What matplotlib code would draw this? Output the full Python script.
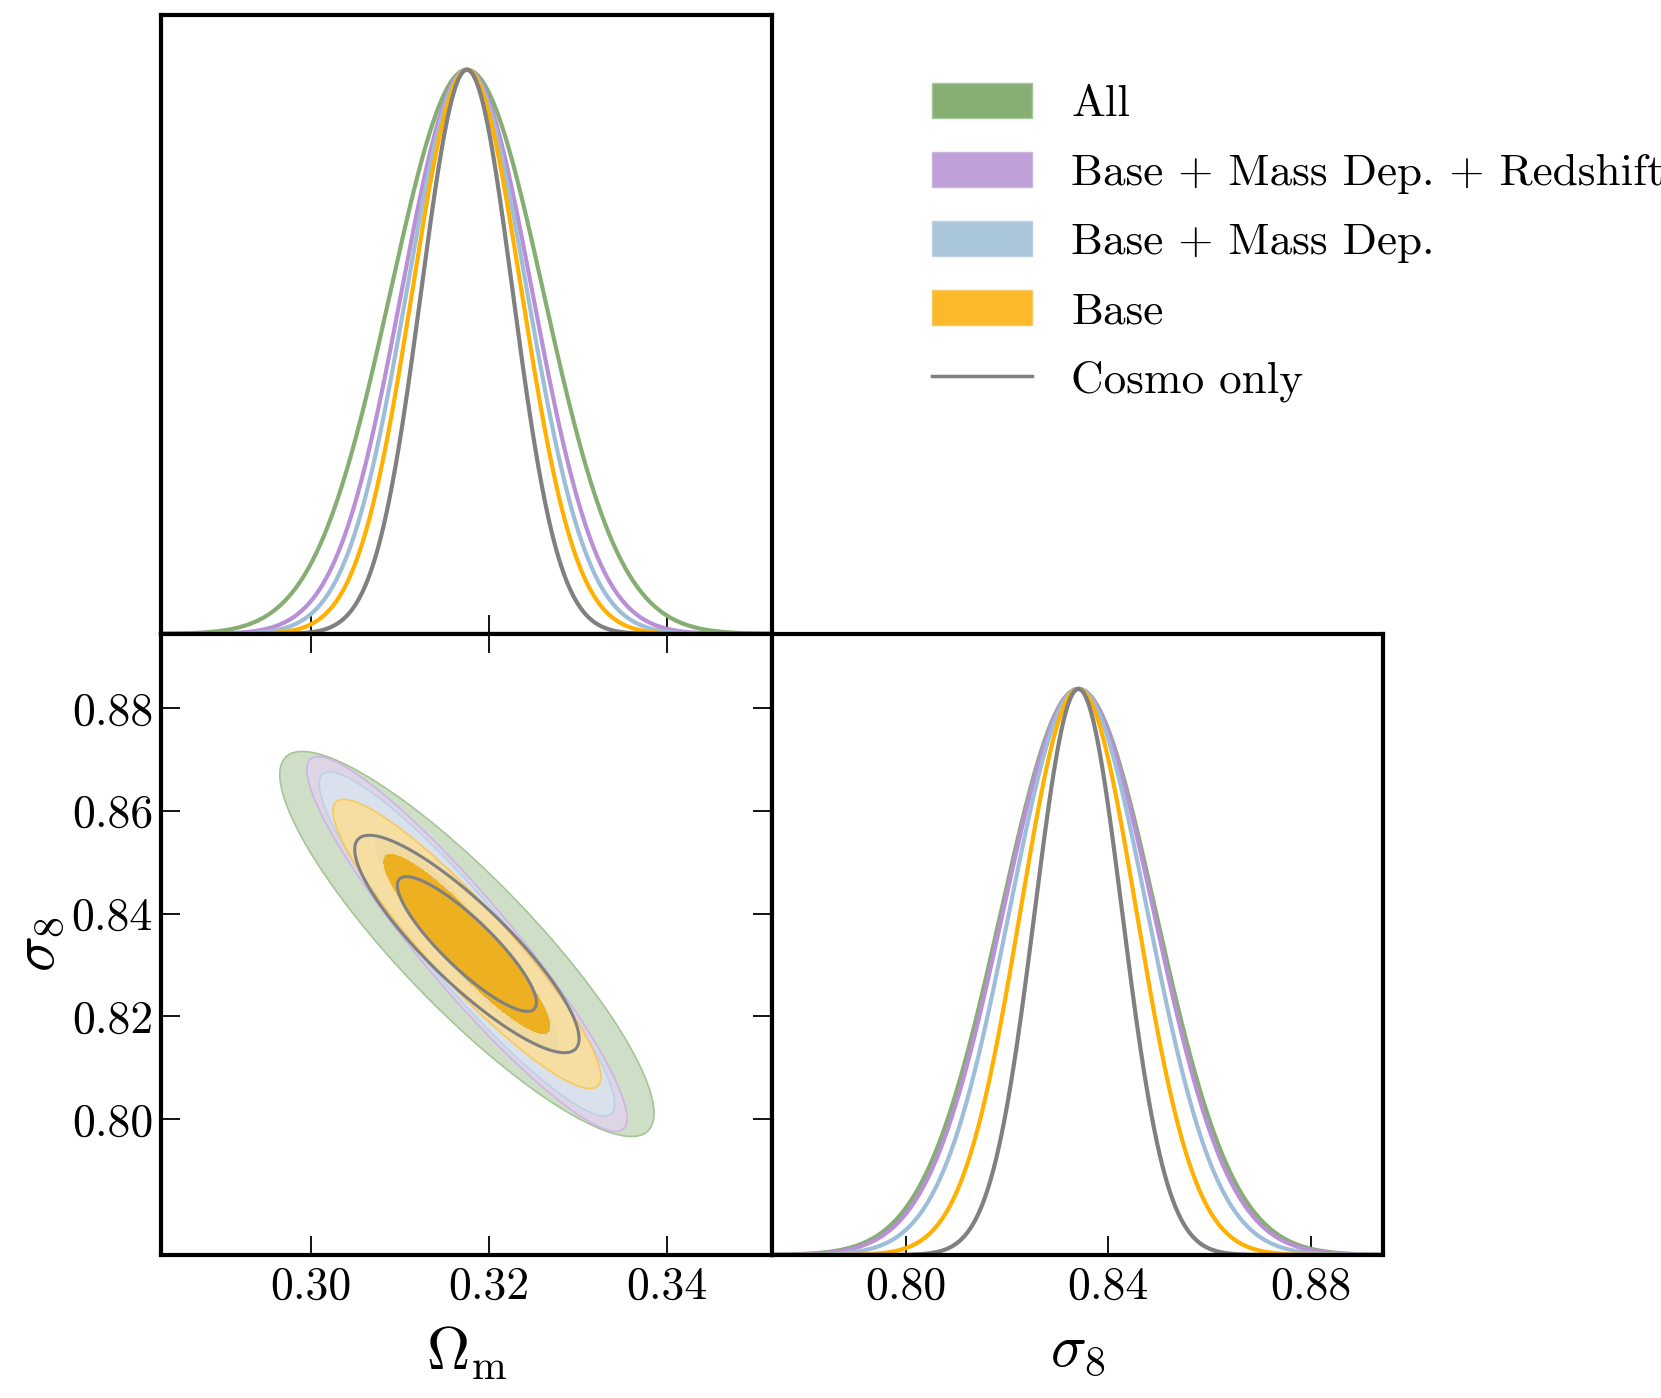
import numpy as np
import matplotlib.pyplot as plt
from matplotlib.patches import Patch
from matplotlib.lines import Line2D

plt.rcParams['font.family'] = 'serif'
plt.rcParams['font.serif'] = ['cmr10']
plt.rcParams['mathtext.fontset'] = 'cm'
plt.rcParams['axes.unicode_minus'] = False

# posterior summaries (gaussian approx)
labels = ['All', 'Base + Mass Dep. + Redshift', 'Base + Mass Dep.', 'Base', 'Cosmo only']
om_mean = [0.3175, 0.3175, 0.3175, 0.3175, 0.3175]
s8_mean = [0.8341, 0.8341, 0.8341, 0.8341, 0.8341]
om_sigma = [0.00859, 0.00735, 0.00678, 0.00615, 0.00515]
s8_sigma = [0.01530, 0.01490, 0.01367, 0.01149, 0.00864]
rho = [-0.88, -0.93, -0.93, -0.92, -0.87]

om_ticks = [0.30, 0.32, 0.34]
om_ticklabels = ['0.30', '0.32', '0.34']
s8_ticks = [0.80, 0.84, 0.88]
s8_ticklabels = ['0.80', '0.84', '0.88']
s8_yticks = [0.80, 0.82, 0.84, 0.86, 0.88]
s8_yticklabels = ['0.80', '0.82', '0.84', '0.86', '0.88']

om_lim = (0.28317, 0.35183)
s8_lim = (0.7736, 0.8944)

line_colors = ['#86AE72', '#B98FD6', '#9DBDD8', '#FFB000', '#808080']
light_colors = ['#CFDFC7', '#E0D4EC', '#D9E5EE', '#FCDE97', None]
dark_colors = ['#9CC08A', '#C7ABE0', '#AAC6DA', '#EDB021', None]
edge_colors = ['#A6C598', '#CBB6E2', '#BCD1E3', '#F7C85E', None]
legend_colors = ['#87AE73', '#C0A0D8', '#AAC6DA', '#FCBA2A']

levels = [2.30, 5.99]

W_FIG, H_FIG = 1661, 1398
fig = plt.figure(figsize=(W_FIG / 100, H_FIG / 100), dpi=100)

left = 161.4 / W_FIG
width = 611 / W_FIG
ax_top = fig.add_axes([left, 1 - 634 / H_FIG, width, 619 / H_FIG])
ax_2d = fig.add_axes([left, 1 - 1255 / H_FIG, width, 621 / H_FIG])
ax_s8 = fig.add_axes([left + width, 1 - 1255 / H_FIG, width, 621 / H_FIG])

x_om = np.linspace(om_lim[0], om_lim[1], 700)
x_s8 = np.linspace(s8_lim[0], s8_lim[1], 700)

# 1D marginals
for i in range(len(labels)):
    y1 = np.exp(-0.5 * ((x_om - om_mean[i]) / om_sigma[i]) ** 2)
    ax_top.plot(x_om, y1, color=line_colors[i], lw=3.0)
    y2 = np.exp(-0.5 * ((x_s8 - s8_mean[i]) / s8_sigma[i]) ** 2)
    ax_s8.plot(x_s8, y2, color=line_colors[i], lw=3.0)

# 2D contours
X, Y = np.meshgrid(x_om, x_s8)
for i in range(len(labels)):
    dx = (X - om_mean[i]) / om_sigma[i]
    dy = (Y - s8_mean[i]) / s8_sigma[i]
    chi2 = (dx ** 2 - 2 * rho[i] * dx * dy + dy ** 2) / (1 - rho[i] ** 2)
    if light_colors[i] is None:
        ax_2d.contour(X, Y, chi2, levels=levels, colors=line_colors[i], linewidths=2.2)
    else:
        a = 1.0 if i == 0 else 0.85
        ax_2d.contourf(X, Y, chi2, levels=[levels[0], levels[1]],
                       colors=[light_colors[i]], alpha=a)
        ax_2d.contourf(X, Y, chi2, levels=[0, levels[0]], colors=[dark_colors[i]])
        ax_2d.contour(X, Y, chi2, levels=[levels[1]], colors=edge_colors[i], linewidths=1.2)

for ax in (ax_top, ax_2d, ax_s8):
    for s in ax.spines.values():
        s.set_linewidth(3.0)

ax_top.set_xlim(om_lim)
ax_top.set_ylim(0, 1.097)
ax_top.set_xticks(om_ticks)
ax_top.set_yticks([])
ax_top.tick_params(direction='in', length=14, width=1.3, labelbottom=False)

ax_2d.set_xlim(om_lim)
ax_2d.set_ylim(s8_lim)
ax_2d.set_xticks(om_ticks)
ax_2d.set_xticklabels(om_ticklabels)
ax_2d.set_yticks(s8_yticks)
ax_2d.set_yticklabels(s8_yticklabels)
ax_2d.tick_params(direction='in', length=14, width=1.3, top=True, right=True,
                  labelsize=33)
ax_2d.tick_params(axis='x', pad=8)
ax_2d.tick_params(axis='y', pad=6)
ax_2d.set_xlabel(r'$\Omega_{\rm m}$', fontsize=43, labelpad=12)
ax_2d.set_ylabel(r'$\sigma_8$', fontsize=43, labelpad=4)

ax_s8.set_xlim(s8_lim)
ax_s8.set_ylim(0, 1.097)
ax_s8.set_xticks(s8_ticks)
ax_s8.set_xticklabels(s8_ticklabels)
ax_s8.set_yticks([])
ax_s8.tick_params(direction='in', length=14, width=1.3, labelsize=33, pad=8)
ax_s8.set_xlabel(r'$\sigma_8$', fontsize=43, labelpad=12)

handles = [Patch(facecolor=legend_colors[i], edgecolor=edge_colors[i], lw=1.0)
           for i in range(4)]
handles.append(Line2D([], [], color=line_colors[4], lw=2.5))
fig.legend(handles, labels, loc='upper left', bbox_to_anchor=(932 / W_FIG, 1 - 83 / H_FIG),
           frameon=False, fontsize=32.5, handlelength=2.21, handleheight=0.8,
           handletextpad=0.88, labelspacing=0.6, borderpad=0, borderaxespad=0)

fig.savefig('out.png', dpi=100)
